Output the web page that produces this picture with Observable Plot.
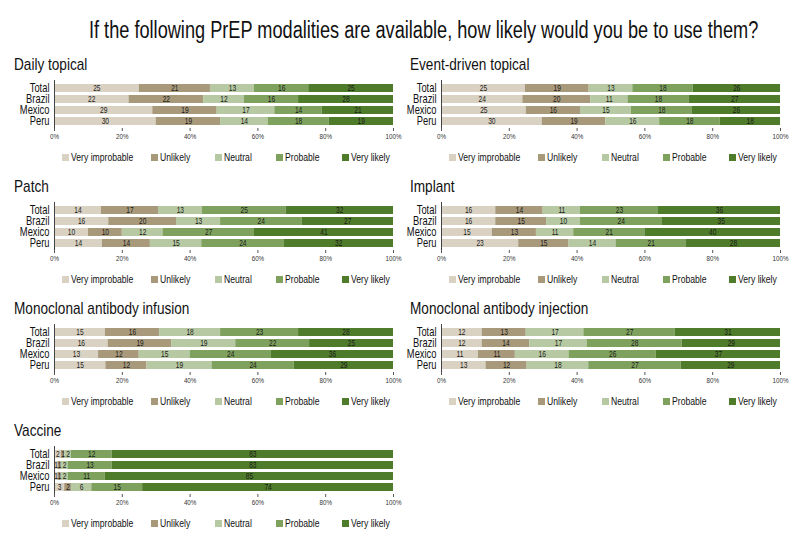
<!DOCTYPE html>
<html><head><meta charset="utf-8">
<script src="https://cdn.jsdelivr.net/npm/d3@7"></script>
<script src="https://cdn.jsdelivr.net/npm/@observablehq/plot@0.6"></script>
<style>
body{margin:0;width:800px;height:554px;background:#fff;overflow:hidden;position:relative;
 font-family:"Liberation Sans",Arial,sans-serif;color:#111}
#title{position:absolute;top:16px;left:0;width:800px;text-align:center;font-size:23px;line-height:28px;white-space:nowrap}
#title span{display:inline-block;transform:scaleX(0.79);transform-origin:center}
.panel{position:absolute;width:400px;height:122px}
.ptitle{height:20px;font-size:17px;line-height:20px;white-space:nowrap}
.ptitle span{display:inline-block;transform:scaleX(0.8);transform-origin:left center}
.legend{position:relative;height:14px;margin-top:6px;font-size:11.5px;line-height:14px}
.legend .it{position:absolute;top:0;white-space:nowrap}
.legend .sw{position:absolute;top:4px;left:0;width:7px;height:7px}
.legend .lb{position:absolute;left:9px;top:0;display:inline-block;transform:scaleX(0.75);transform-origin:left center;color:#111}
svg{display:block}
</style></head><body>
<div id="title"><span>If the following PrEP modalities are available, how likely would you be to use them?</span></div>
<div id="root"></div>
<script>
const categories = ["Very improbable","Unlikely","Neutral","Probable","Very likely"];
const colors = ["#d9d2c3","#a8997b","#b6c9a2","#7ea25e","#4f7c2b"];
const groups = ["Total","Brazil","Mexico","Peru"];
const modalities = ["Daily topical","Event-driven topical","Patch","Implant","Monoclonal antibody infusion","Monoclonal antibody injection","Vaccine"];
const xTicks = [0,0.2,0.4,0.6,0.8,1];

const dailyTopical = [[25,21,13,16,25],[22,22,12,16,28],[29,19,17,14,21],[30,19,14,18,19]];
const eventDriven  = [[25,19,13,18,26],[24,20,11,18,27],[25,16,15,18,26],[30,19,16,18,18]];
const patch        = [[14,17,13,25,32],[16,20,13,24,27],[10,10,12,27,41],[14,14,15,24,32]];
const implant      = [[16,14,11,23,36],[16,15,10,24,35],[15,13,11,21,40],[23,15,14,21,28]];
const mabInfusion  = [[15,16,18,23,28],[16,19,19,22,25],[13,12,15,24,36],[15,12,19,24,29]];
const mabInjection = [[12,13,17,27,31],[12,14,17,28,29],[11,11,16,26,37],[13,12,18,27,29]];
const vaccine      = [[2,1,2,12,83],[1,1,2,13,83],[1,1,2,11,85],[3,2,6,15,74]];
const series = [dailyTopical, eventDriven, patch, implant, mabInfusion, mabInjection, vaccine];

const legendOffsets = [8, 97, 161, 222, 288];
const font = '"Liberation Sans",Arial,sans-serif';
const root = document.getElementById("root");

function condense(svg, s) {
  svg.querySelectorAll("text").forEach(el => {
    const tr = el.getAttribute("transform");
    if (tr) el.setAttribute("transform", tr + ` scale(${s},1)`);
    else {
      const x = +(el.getAttribute("x") || 0), y = +(el.getAttribute("y") || 0);
      el.setAttribute("transform", `translate(${x},${y}) scale(${s},1) translate(${-x},${-y})`);
    }
  });
}

series.forEach((vals, i) => {
  const col = i % 2, row = Math.floor(i / 2);
  const left = col === 0;
  const axisX0 = left ? 54 : 41;
  const panel = document.createElement("div");
  panel.className = "panel";
  panel.style.left = (col * 400) + "px";
  panel.style.top = (55 + row * 122) + "px";
  const t = document.createElement("div");
  t.className = "ptitle";
  t.style.paddingLeft = left ? "14px" : "10px";
  t.innerHTML = `<span>${modalities[i]}</span>`;
  panel.appendChild(t);

  const rows = [];
  groups.forEach((g, gi) => categories.forEach((c, ci) => rows.push({group: g, cat: c, value: vals[gi][ci]})));

  const chart = Plot.plot({
    width: 400, height: 69,
    marginLeft: axisX0, marginRight: left ? 7 : 20, marginTop: 5, marginBottom: 16,
    style: {fontFamily: font, background: "transparent", color: "#111", overflow: "visible"},
    x: {domain: [0, 1], label: null},
    y: {domain: groups, padding: 0.3, label: null},
    color: {domain: categories, range: colors},
    marks: [
      Plot.barX(rows, Plot.stackX({offset: "normalize", x: "value", y: "group", z: "cat", fill: "cat"})),
      Plot.text(rows, Plot.stackX({offset: "normalize", x: "value", y: "group", z: "cat", text: "value", fontSize: 8.5, fill: "#1a1a1a"})),
      Plot.ruleX([0], {stroke: "#444", strokeWidth: 1}),
      Plot.axisX({ticks: xTicks, tickFormat: d => Math.round(d * 100) + "%", tickSize: 3, fontSize: 8, tickPadding: 2, stroke: "#555", fill: "#333"}),
      Plot.axisY({tickSize: 0, tickPadding: 5, fontSize: 12})
    ]
  });
  condense(chart, 0.78);
  panel.appendChild(chart);

  const lg = document.createElement("div");
  lg.className = "legend";
  categories.forEach((c, ci) => {
    const it = document.createElement("div");
    it.className = "it";
    it.style.left = (axisX0 + legendOffsets[ci]) + "px";
    it.innerHTML = `<span class="sw" style="background:${colors[ci]}"></span><span class="lb">${c}</span>`;
    lg.appendChild(it);
  });
  panel.appendChild(lg);
  root.appendChild(panel);
});
</script>
</body></html>
